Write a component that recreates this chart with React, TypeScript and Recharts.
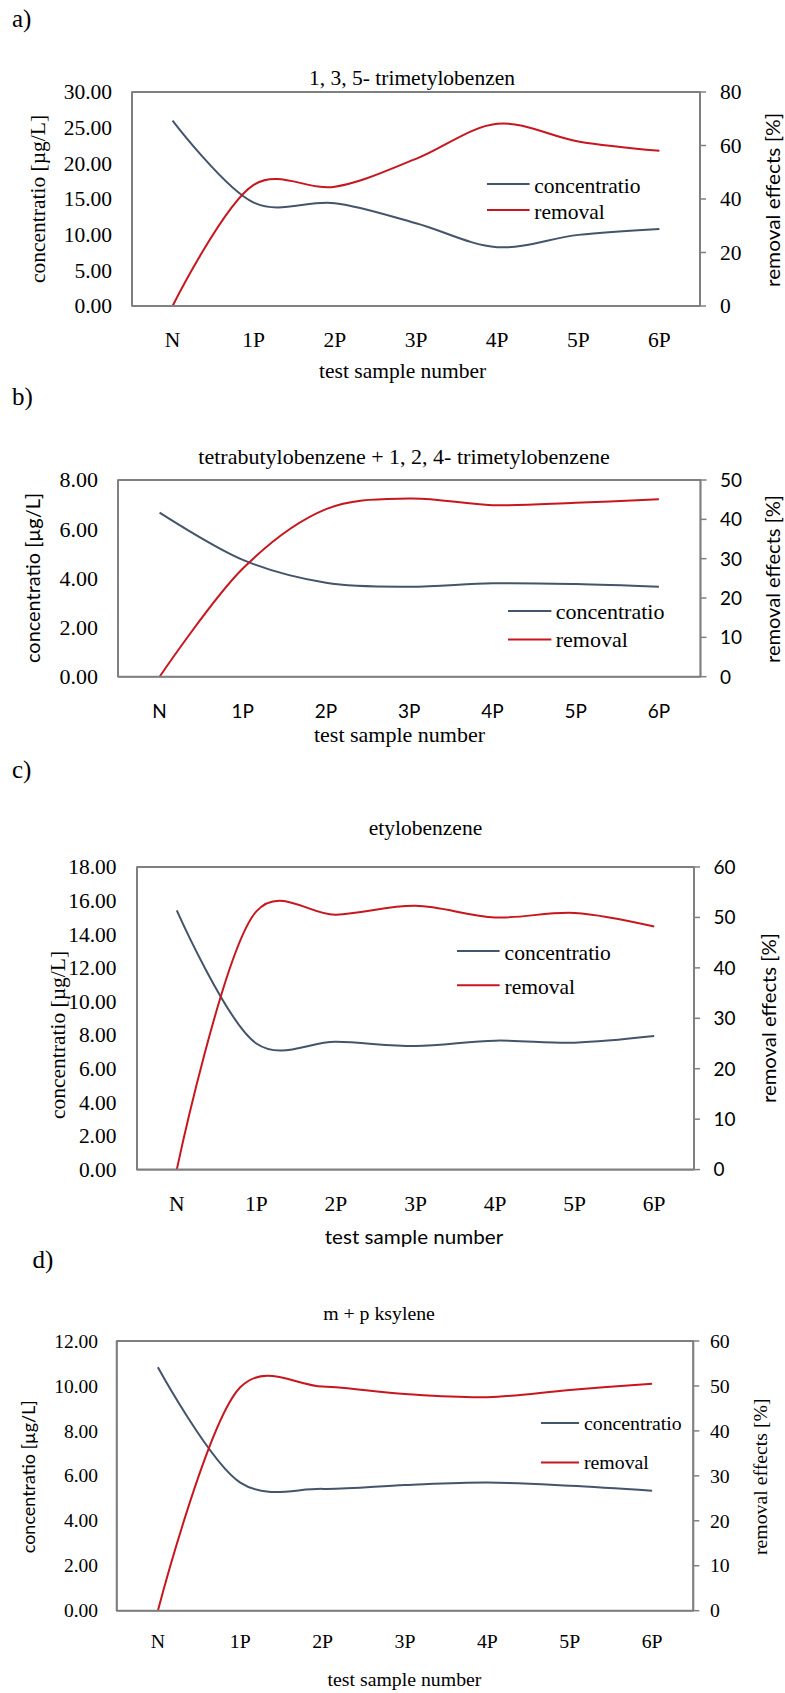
import React from "react";
import { LineChart, Line, XAxis, YAxis, Legend, ReferenceArea } from "recharts";

const categories = ["N", "1P", "2P", "3P", "4P", "5P", "6P"];

// a) 1, 3, 5- trimetylobenzen
const concA = [26.0, 14.5, 14.4, 11.6, 8.25, 9.97, 10.8];
const removalA = [0, 45.3, 44.6, 55.0, 68.1, 61.5, 58.0];
const concTicksA = [0, 5, 10, 15, 20, 25, 30];
const removalTicksA = [0, 20, 40, 60, 80];

// b) tetrabutylobenzene + 1, 2, 4- trimetylobenzene
const concB = [6.67, 4.75, 3.82, 3.66, 3.8, 3.77, 3.66];
const removalB = [0, 27.5, 42.6, 45.3, 43.6, 44.2, 45.1];
const concTicksB = [0, 2, 4, 6, 8];
const removalTicksB = [0, 10, 20, 30, 40, 50];

// c) etylobenzene
const concC = [15.42, 7.5, 7.6, 7.35, 7.67, 7.55, 7.94];
const removalC = [0, 51.2, 50.55, 52.3, 50.0, 50.9, 48.2];
const concTicksC = [0, 2, 4, 6, 8, 10, 12, 14, 16, 18];
const removalTicksC = [0, 10, 20, 30, 40, 50, 60];

// d) m + p ksylene
const concD = [10.83, 5.7, 5.42, 5.59, 5.7, 5.56, 5.34];
const removalD = [0, 49.7, 49.85, 48.2, 47.5, 49.1, 50.5];
const concTicksD = [0, 2, 4, 6, 8, 10, 12];
const removalTicksD = [0, 10, 20, 30, 40, 50, 60];

const SERIF = "'Liberation Serif', 'Times New Roman', serif";
const SANS = "Lato, 'Liberation Sans', sans-serif";
const BLUE = "#44546A";
const RED = "#C8161E";
const AXIS = "#808080";

// Excel-like smoothed line: Catmull-Rom with a small alpha
const ALPHA = 0.25;
function excelSmooth(context: any) {
  let pts: number[][] = [];
  const ctrl = (p0: number[], p1: number[], p2: number[], p3: number[]) => {
    const d = (a: number[], b: number[]) => Math.hypot(b[0] - a[0], b[1] - a[1]);
    const l01a = Math.pow(d(p0, p1), ALPHA);
    const l12a = Math.pow(d(p1, p2), ALPHA);
    const l23a = Math.pow(d(p2, p3), ALPHA);
    const l01 = l01a * l01a, l12 = l12a * l12a, l23 = l23a * l23a;
    let c1 = p1, c2 = p2;
    if (l01a > 1e-6) {
      const a = 2 * l01 + 3 * l01a * l12a + l12;
      const n = 3 * l01a * (l01a + l12a);
      c1 = [0, 1].map((k) => (p1[k] * a - p0[k] * l12 + p2[k] * l01) / n);
    }
    if (l23a > 1e-6) {
      const b = 2 * l23 + 3 * l23a * l12a + l12;
      const m = 3 * l23a * (l23a + l12a);
      c2 = [0, 1].map((k) => (p2[k] * b + p1[k] * l23 - p3[k] * l12) / m);
    }
    return [c1, c2];
  };
  return {
    areaStart() {},
    areaEnd() {},
    lineStart() {
      pts = [];
    },
    point(x: number, y: number) {
      pts.push([+x, +y]);
    },
    lineEnd() {
      const n = pts.length;
      if (!n) return;
      context.moveTo(pts[0][0], pts[0][1]);
      for (let i = 0; i < n - 1; i++) {
        const p0 = pts[Math.max(i - 1, 0)];
        const p3 = pts[Math.min(i + 2, n - 1)];
        const [c1, c2] = ctrl(p0, pts[i], pts[i + 1], p3);
        context.bezierCurveTo(c1[0], c1[1], c2[0], c2[1], pts[i + 1][0], pts[i + 1][1]);
      }
    },
  };
}

type Font = { font: string; size: number };

type Panel = {
  letter: string; letterX: number; letterY: number;
  title: string; titleX: number; titleY: number; titleSize: number;
  plot: { left: number; right: number; top: number; bottom: number };
  conc: number[]; removal: number[];
  concTicks: number[]; removalTicks: number[];
  leftTick: Font & { gap: number };
  rightTick: Font & { gap: number };
  xTick: Font & { dy: number };
  leftTitle: Font & { x: number; y: number; len?: number };
  rightTitle: Font & { x: number; y: number; len?: number };
  xTitle: Font & { x: number; y: number; len?: number };
  legend: { x: number; y: number; gap: number; line: number; textX: number; size: number; textDy: number };
};

const panels: Panel[] = [
  {
    letter: "a)", letterX: 12, letterY: 26.5,
    title: "1, 3, 5- trimetylobenzen", titleX: 412, titleY: 85, titleSize: 21.5,
    plot: { left: 132, right: 700, top: 92, bottom: 306 },
    conc: concA, removal: removalA, concTicks: concTicksA, removalTicks: removalTicksA,
    leftTick: { font: SERIF, size: 21.5, gap: 20 },
    rightTick: { font: SERIF, size: 21.5, gap: 20 },
    xTick: { font: SERIF, size: 21.5, dy: 41.3 },
    leftTitle: { font: SERIF, size: 21.5, x: 44.5, y: 199 },
    rightTitle: { font: SANS, size: 20, x: 780, y: 200, len: 174 },
    xTitle: { font: SERIF, size: 21.5, x: 402.7, y: 378.3 },
    legend: { x: 486.7, y: 184, gap: 26, line: 42.6, textX: 47.3, size: 21.5, textDy: 9.3 },
  },
  {
    letter: "b)", letterX: 12, letterY: 405,
    title: "tetrabutylobenzene + 1, 2, 4- trimetylobenzene", titleX: 404, titleY: 464.3, titleSize: 22,
    plot: { left: 118, right: 700.5, top: 480, bottom: 676.7 },
    conc: concB, removal: removalB, concTicks: concTicksB, removalTicks: removalTicksB,
    leftTick: { font: SERIF, size: 22, gap: 20 },
    rightTick: { font: SANS, size: 19, gap: 19.5 },
    xTick: { font: SANS, size: 19, dy: 41.8 },
    leftTitle: { font: SANS, size: 20, x: 40, y: 578, len: 170 },
    rightTitle: { font: SANS, size: 20, x: 780, y: 579, len: 168 },
    xTitle: { font: SERIF, size: 22, x: 399.5, y: 741.7 },
    legend: { x: 508.3, y: 610.7, gap: 28.6, line: 43.4, textX: 47.7, size: 22, textDy: 7.7 },
  },
  {
    letter: "c)", letterX: 12, letterY: 778,
    title: "etylobenzene", titleX: 425.5, titleY: 835, titleSize: 21.5,
    plot: { left: 137, right: 694, top: 866.7, bottom: 1169.3 },
    conc: concC, removal: removalC, concTicks: concTicksC, removalTicks: removalTicksC,
    leftTick: { font: SERIF, size: 21.5, gap: 20.5 },
    rightTick: { font: SANS, size: 19, gap: 19.5 },
    xTick: { font: SERIF, size: 21.5, dy: 41.3 },
    leftTitle: { font: SERIF, size: 21.5, x: 65, y: 1035 },
    rightTitle: { font: SANS, size: 20, x: 776, y: 1018, len: 170 },
    xTitle: { font: SANS, size: 20, x: 414, y: 1244.3, len: 178.5 },
    legend: { x: 456.7, y: 950.7, gap: 34.3, line: 42.6, textX: 47.6, size: 21.5, textDy: 8.7 },
  },
  {
    letter: "d)", letterX: 32.5, letterY: 1268,
    title: "m + p ksylene", titleX: 379, titleY: 1320, titleSize: 19.8,
    plot: { left: 116.7, right: 693.3, top: 1341, bottom: 1610.7 },
    conc: concD, removal: removalD, concTicks: concTicksD, removalTicks: removalTicksD,
    leftTick: { font: SERIF, size: 19.5, gap: 18.7 },
    rightTick: { font: SERIF, size: 19.8, gap: 16.7 },
    xTick: { font: SERIF, size: 19.8, dy: 37.7 },
    leftTitle: { font: SANS, size: 18, x: 35, y: 1476.7, len: 153 },
    rightTitle: { font: SERIF, size: 19.8, x: 767, y: 1476.7 },
    xTitle: { font: SERIF, size: 19.8, x: 404.5, y: 1686 },
    legend: { x: 541, y: 1423.3, gap: 39.4, line: 38, textX: 43, size: 19.8, textDy: 6.7 },
  },
];

const RIGHT_W = 60;
const TOP_PAD = 25;
const X_H = 55;

function PanelChart({ p }: { p: Panel }) {
  const top = p.plot.top - TOP_PAD;
  const height = TOP_PAD + (p.plot.bottom - p.plot.top) + X_H;
  const data = categories.map((c, i) => ({ x: i, cat: c, conc: p.conc[i], removal: p.removal[i] }));
  const concMax = p.concTicks[p.concTicks.length - 1];
  const removalMax = p.removalTicks[p.removalTicks.length - 1];
  const lg = p.legend;
  const digits = (f: Font) => (f.font === SANS ? 0.36 : 0.34) * f.size;

  return (
    <div style={{ position: "absolute", left: 0, top }}>
      <LineChart
        width={785}
        height={height}
        data={data}
        margin={{ top: TOP_PAD, right: 785 - p.plot.right - RIGHT_W, bottom: 0, left: 0 }}
      >
        <ReferenceArea yAxisId="left" y1={0} y2={concMax} fill="none" stroke="#000" strokeWidth={1.2} />
        <XAxis
          dataKey="x"
          type="number"
          domain={[-0.5, categories.length - 0.5]}
          ticks={categories.map((_, i) => i)}
          interval={0}
          height={X_H}
          axisLine={{ stroke: AXIS, strokeWidth: 2 }}
          tickLine={false}
          tickSize={0}
          tickMargin={0}
          tick={(t: any) => (
            <text x={t.x} y={t.y + p.xTick.dy} textAnchor="middle" fontFamily={p.xTick.font} fontSize={p.xTick.size} fill="#000">
              {categories[t.payload.value]}
            </text>
          )}
        />
        <YAxis
          yAxisId="left"
          width={p.plot.left}
          domain={[0, concMax]}
          ticks={p.concTicks}
          interval={0}
          axisLine={{ stroke: AXIS, strokeWidth: 2 }}
          tickLine={false}
          tickSize={0}
          tickMargin={0}
          tick={(t: any) => (
            <text x={t.x - p.leftTick.gap} y={t.y + digits(p.leftTick)} textAnchor="end" fontFamily={p.leftTick.font} fontSize={p.leftTick.size} fill="#000">
              {Number(t.payload.value).toFixed(2)}
            </text>
          )}
        />
        <YAxis
          yAxisId="right"
          orientation="right"
          width={RIGHT_W}
          domain={[0, removalMax]}
          ticks={p.removalTicks}
          interval={0}
          axisLine={{ stroke: AXIS, strokeWidth: 2 }}
          tickLine={{ stroke: AXIS, strokeWidth: 1.5 }}
          tickSize={6}
          tickMargin={0}
          tick={(t: any) => (
            <text x={t.x - 6 + p.rightTick.gap} y={t.y + digits(p.rightTick)} textAnchor="start" fontFamily={p.rightTick.font} fontSize={p.rightTick.size} fill="#000">
              {t.payload.value}
            </text>
          )}
        />
        <Legend
          layout="horizontal"
          verticalAlign="middle"
          align="center"
          wrapperStyle={{ left: lg.x, top: lg.y - 15 - top, width: 220, height: 30 + lg.gap }}
          content={(props: any) => (
            <svg width={220} height={30 + lg.gap} style={{ display: "block" }}>
              {(props.payload || []).map((item: any, i: number) => (
                <g key={item.value}>
                  <line x1={0} x2={lg.line} y1={15 + i * lg.gap} y2={15 + i * lg.gap} stroke={item.color} strokeWidth={2} />
                  <text x={lg.textX} y={15 + i * lg.gap + lg.textDy} fontFamily={SERIF} fontSize={lg.size} fill="#000">
                    {item.value}
                  </text>
                </g>
              ))}
            </svg>
          )}
        />
        <Line
          yAxisId="left"
          dataKey="conc"
          name="concentratio"
          type={excelSmooth as any}
          stroke={BLUE}
          strokeWidth={2}
          dot={false}
          activeDot={false}
          isAnimationActive={false}
        />
        <Line
          yAxisId="right"
          dataKey="removal"
          name="removal"
          type={excelSmooth as any}
          stroke={RED}
          strokeWidth={2}
          dot={false}
          activeDot={false}
          isAnimationActive={false}
        />
      </LineChart>
    </div>
  );
}

function VText({ t, value }: { t: Font & { x: number; y: number; len?: number }; value: string }) {
  return (
    <text
      transform={`translate(${t.x},${t.y}) rotate(-90)`}
      textAnchor="middle"
      fontFamily={t.font}
      fontSize={t.size}
      fill="#000"
      textLength={t.len}
      lengthAdjust={t.len ? "spacingAndGlyphs" : undefined}
    >
      {value}
    </text>
  );
}

function PanelTexts({ p }: { p: Panel }) {
  return (
    <g>
      <text x={p.letterX} y={p.letterY} fontFamily={SERIF} fontSize={25} fill="#000">
        {p.letter}
      </text>
      <text x={p.titleX} y={p.titleY} textAnchor="middle" fontFamily={SERIF} fontSize={p.titleSize} fill="#000">
        {p.title}
      </text>
      <VText t={p.leftTitle} value="concentratio [µg/L]" />
      <VText t={p.rightTitle} value="removal effects [%]" />
      <text
        x={p.xTitle.x}
        y={p.xTitle.y}
        textAnchor="middle"
        fontFamily={p.xTitle.font}
        fontSize={p.xTitle.size}
        fill="#000"
        textLength={p.xTitle.len}
        lengthAdjust={p.xTitle.len ? "spacingAndGlyphs" : undefined}
      >
        test sample number
      </text>
    </g>
  );
}

export default function App() {
  return (
    <div style={{ position: "absolute", left: 0, top: 0, width: 785, height: 1693, background: "#fff" }}>
      {panels.map((p) => (
        <PanelChart key={p.letter} p={p} />
      ))}
      <svg width={785} height={1693} style={{ position: "absolute", left: 0, top: 0, pointerEvents: "none" }}>
        {panels.map((p) => (
          <PanelTexts key={p.letter} p={p} />
        ))}
      </svg>
    </div>
  );
}
